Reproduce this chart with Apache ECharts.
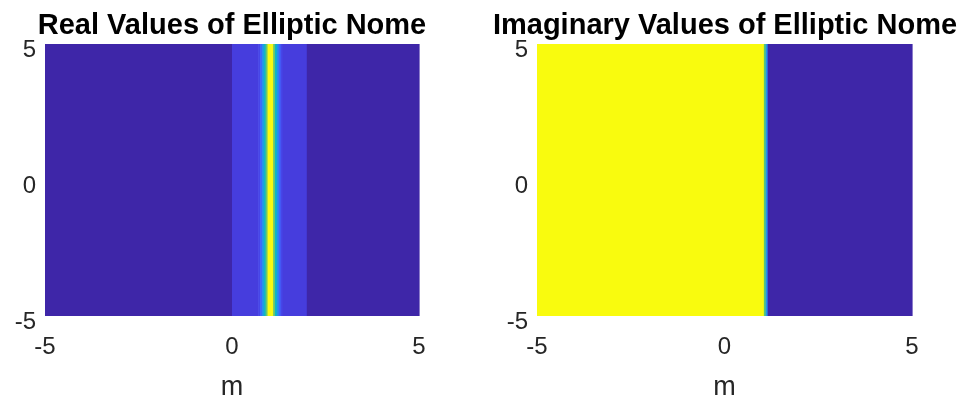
<!DOCTYPE html>
<html>
<head>
<meta charset="utf-8">
<script src="https://cdn.jsdelivr.net/npm/echarts@6/dist/echarts.min.js"></script>
<style>html,body{margin:0;padding:0;background:#fff;}#chart{width:970px;height:404px;}</style>
</head>
<body>
<div id="chart"></div>
<script>
// ---- data ----
const titles = ['Real Values of Elliptic Nome', 'Imaginary Values of Elliptic Nome'];
const xName = 'm';
const mTicks = [-5, 0, 5];
const yTicks = [-5, 0, 5];
const yRange = [-5, 5];
// column edges along m and the value of each column (constant in y)
const realEdges = [-5, 0, 0.70, 0.75, 0.80, 0.85, 0.90, 0.95, 1.00, 1.05, 1.10, 1.15, 1.20, 1.25, 1.30, 1.35, 2, 5];
const realValues = [0, 0.09, 0.12, 0.22, 0.35, 0.50, 0.68, 1.00, 1.00, 1.00, 0.68, 0.50, 0.33, 0.20, 0.12, 0.09, 0];
const imagEdges = [-5, 1.05, 1.10, 1.15, 5];
const imagValues = [1, 0.65, 0.35, 0];
// parula-like colormap
const parula = ['#3e26a8', '#473fe3', '#4263fc', '#2887f5', '#1ca2e0', '#0eb7c4', '#32c496', '#78c764', '#c4bb39', '#fcc830', '#f9fb0e'];

function cells(edges, vals) {
  const out = [];
  for (let i = 0; i < vals.length; i++) out.push([edges[i], edges[i + 1], vals[i]]);
  return out;
}

const chart = echarts.init(document.getElementById('chart'));
const grids = [
  {left: 45, top: 44, width: 374, height: 272, containLabel: false, outerBoundsMode: 'none'},
  {left: 537, top: 44, width: 375, height: 272, containLabel: false, outerBoundsMode: 'none'}
];
const titleCenters = [232, 725];
const tickFont = {fontFamily: 'Liberation Sans', fontSize: 24, color: '#262626'};

function renderItem(params, api) {
  const p0 = api.coord([api.value(0), yRange[1]]);
  const p1 = api.coord([api.value(1), yRange[0]]);
  return {
    type: 'rect',
    shape: {x: p0[0], y: p0[1], width: p1[0] - p0[0] + 0.6, height: p1[1] - p0[1]},
    style: {fill: api.visual('color')}
  };
}

const option = {
  animation: false,
  backgroundColor: '#fff',
  title: titles.map((t, i) => ({
    text: t,
    left: titleCenters[i],
    top: 11,
    padding: 0,
    textAlign: 'center',
    textStyle: {fontFamily: 'Liberation Sans', fontSize: 29, fontWeight: 'bold', color: '#000'}
  })),
  grid: grids,
  xAxis: grids.map((g, i) => ({
    type: 'value', gridIndex: i, min: mTicks[0], max: mTicks[mTicks.length - 1], interval: 5,
    name: xName, nameLocation: 'middle', nameGap: 58,
    nameTextStyle: {fontFamily: 'Liberation Sans', fontSize: 27, color: '#262626'},
    axisLine: {show: false}, axisTick: {show: false}, splitLine: {show: false},
    axisLabel: Object.assign({margin: 19}, tickFont)
  })),
  yAxis: grids.map((g, i) => ({
    type: 'value', gridIndex: i, min: yTicks[0], max: yTicks[yTicks.length - 1], interval: 5,
    axisLine: {show: false}, axisTick: {show: false}, splitLine: {show: false},
    axisLabel: Object.assign({margin: 9, verticalAlign: 'top', lineHeight: 12}, tickFont)
  })),
  visualMap: [{
    type: 'continuous', show: false, min: 0, max: 1, dimension: 2, seriesIndex: [0, 1],
    inRange: {color: parula}
  }],
  series: [
    {type: 'custom', xAxisIndex: 0, yAxisIndex: 0, renderItem: renderItem, encode: {x: [0, 1]}, data: cells(realEdges, realValues)},
    {type: 'custom', xAxisIndex: 1, yAxisIndex: 1, renderItem: renderItem, encode: {x: [0, 1]}, data: cells(imagEdges, imagValues)}
  ]
};
chart.setOption(option);
</script>
</body>
</html>
